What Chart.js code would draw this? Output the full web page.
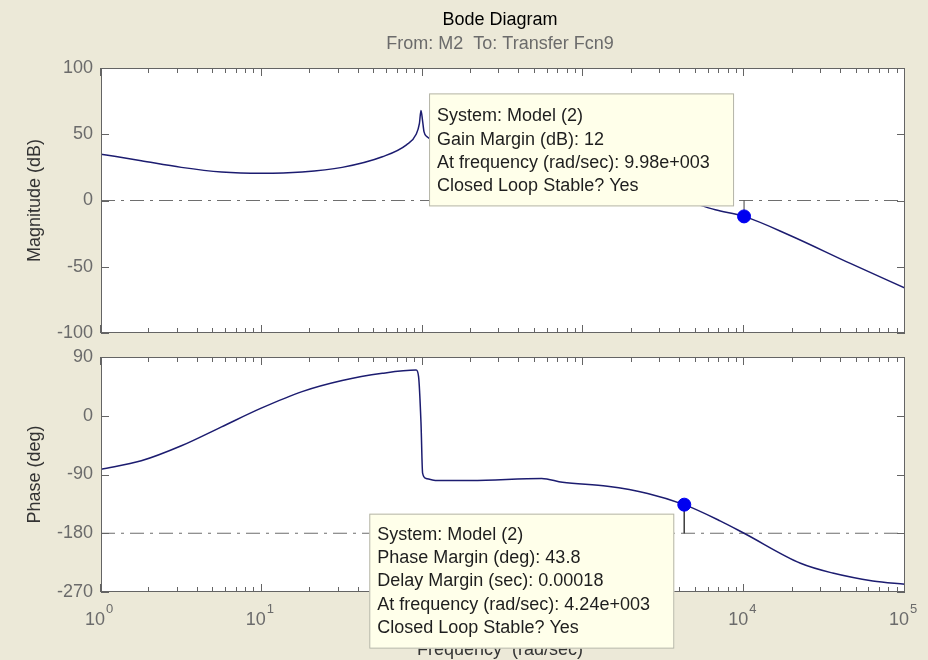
<!DOCTYPE html>
<html>
<head>
<meta charset="utf-8">
<title>Bode Diagram</title>
<script src="https://cdn.jsdelivr.net/npm/chart.js@4/dist/chart.umd.min.js"></script>
<style>
  html, body { margin: 0; padding: 0; background: #ece9d8; }
  #wrap { position: relative; width: 928px; height: 660px; }
  canvas { position: absolute; left: 0; top: 0; }
</style>
</head>
<body>
<div id="wrap">
  <canvas id="magChart" width="928" height="660"></canvas>
  <canvas id="phaseChart" width="928" height="660"></canvas>
</div>
<script>
// values (freq in rad/sec)
const magFreq = [1, 1.78, 3.16, 5.62, 10, 17.8, 31.6, 56.2, 79.4, 91.2, 95.5, 97.7, 100, 102, 107, 126, 316, 1000, 2000, 4240, 6610, 9980, 19000, 45700, 100000];
const magDb   = [35, 30, 25, 21.5, 20.5, 21.5, 25, 33, 42, 50, 58, 68, 60, 52, 48, 44, 33, 20, 10, 0, -7, -12, -26, -47.5, -66];

const phaseFreq = [1, 1.78, 3.16, 5.62, 10, 17.8, 31.6, 56.2, 91.2, 94.4, 97.7, 100, 105, 120, 200, 550, 741, 1410, 2510, 4240, 7080, 9980, 22400, 35500, 63100, 100000];
const phaseDeg  = [-82, -69, -46, -17, 12, 37, 54, 65, 70, 60, -10, -88, -96, -99, -99, -96, -102, -108, -119, -136.2, -161, -180, -226, -241, -253, -258];

// margin markers: [freq, value, reference line]
const gainPoint  = [9980, -12, 0];
const phasePoint = [4240, -136.2, -180];

const magTicks    = [100, 50, 0, -50, -100];
const phaseTicks  = [90, 0, -90, -180, -270];
const decadeTicks = [1, 10, 100, 1000, 10000, 100000];
const decadeExp   = ['0', '1', '2', '3', '4', '5'];
const minorSteps  = [2, 3, 4, 5, 6, 7, 8, 9];

const gainText  = ['System: Model (2)', 'Gain Margin (dB): 12', 'At frequency (rad/sec): 9.98e+003', 'Closed Loop Stable? Yes'];
const phaseText = ['System: Model (2)', 'Phase Margin (deg): 43.8', 'Delay Margin (sec): 0.00018', 'At frequency (rad/sec): 4.24e+003', 'Closed Loop Stable? Yes'];

const FONT = '"Liberation Sans", Arial, sans-serif';

function pts(xs, ys) {
  return xs.map((x, i) => ({ x: x, y: ys[i] }));
}

/* white plot area, then frame with inward ticks on all sides */
function drawBack(chart) {
  const ctx = chart.ctx, a = chart.chartArea;
  ctx.save();
  ctx.fillStyle = '#ffffff';
  ctx.fillRect(a.left, a.top, a.right - a.left, a.bottom - a.top);
  ctx.restore();
}

function drawFrame(chart, yTicks) {
  const ctx = chart.ctx, a = chart.chartArea;
  const xs = chart.scales.x, ys = chart.scales.y;
  ctx.save();
  ctx.strokeStyle = '#646464';
  ctx.lineWidth = 1;
  ctx.strokeRect(a.left + 0.5, a.top + 0.5, a.right - a.left - 1, a.bottom - a.top - 1);
  ctx.beginPath();
  function vtick(v, len) {
    const px = Math.round(xs.getPixelForValue(v)) - 0.5;
    ctx.moveTo(px, a.top); ctx.lineTo(px, a.top + len);
    ctx.moveTo(px, a.bottom); ctx.lineTo(px, a.bottom - len);
  }
  decadeTicks.forEach((d, i) => {
    vtick(d, 8);
    if (i < decadeTicks.length - 1) {
      minorSteps.forEach(m => vtick(d * m, 5));
    }
  });
  yTicks.forEach(v => {
    const py = Math.round(ys.getPixelForValue(v)) + 0.5;
    ctx.moveTo(a.left, py); ctx.lineTo(a.left + 8, py);
    ctx.moveTo(a.right, py); ctx.lineTo(a.right - 8, py);
  });
  ctx.stroke();

  // y tick labels
  ctx.fillStyle = '#6b6b6b';
  ctx.font = '18px ' + FONT;
  ctx.textAlign = 'right';
  ctx.textBaseline = 'middle';
  yTicks.forEach(v => {
    ctx.fillText(String(v), a.left - 8, ys.getPixelForValue(v));
  });
  ctx.restore();
}

function drawYLabel(chart, text) {
  const ctx = chart.ctx, a = chart.chartArea;
  ctx.save();
  ctx.translate(35, (a.top + a.bottom) / 2);
  ctx.rotate(-Math.PI / 2);
  ctx.fillStyle = '#333333';
  ctx.font = '18px ' + FONT;
  ctx.textAlign = 'center';
  ctx.textBaseline = 'middle';
  ctx.fillText(text, 0, 0);
  ctx.restore();
}

function drawBox(ctx, left, top, w, h, lines, firstY) {
  ctx.save();
  ctx.fillStyle = '#ffffea';
  ctx.strokeStyle = '#b4b4a8';
  ctx.lineWidth = 1;
  ctx.fillRect(left, top, w, h);
  ctx.strokeRect(left + 0.5, top + 0.5, w - 1, h - 1);
  ctx.fillStyle = '#1e1e1e';
  ctx.font = '18px ' + FONT;
  ctx.textAlign = 'left';
  ctx.textBaseline = 'middle';
  lines.forEach((t, i) => ctx.fillText(t, left + 8, top + firstY + i * 23.3));
  ctx.restore();
}

function datasets(xs, ys, mark) {
  return [
    { // reference line (0 dB / -180 deg)
      data: [{ x: decadeTicks[0], y: mark[2] }, { x: decadeTicks[decadeTicks.length - 1], y: mark[2] }],
      borderColor: '#6e6e6e', borderWidth: 1.2, borderDash: [14, 6, 3, 6],
      pointRadius: 0, order: 4
    },
    {
      data: pts(xs, ys),
      borderColor: '#1c1c70', borderWidth: 1.5, pointRadius: 0,
      cubicInterpolationMode: 'monotone', order: 3
    },
    { // stem from marker to reference line
      data: [{ x: mark[0], y: mark[1] }, { x: mark[0], y: mark[2] }],
      borderColor: '#404040', borderWidth: 1, pointRadius: 0, order: 2
    },
    {
      data: [{ x: mark[0], y: mark[1] }],
      showLine: false, pointRadius: 6.5, pointHoverRadius: 6.5,
      pointBackgroundColor: '#0000f0', pointBorderColor: '#0000f0', order: 1
    }
  ];
}

function baseOptions(pad, yMin, yMax) {
  return {
    responsive: false,
    animation: false,
    events: [],
    layout: { padding: pad },
    plugins: { legend: { display: false }, tooltip: { enabled: false } },
    scales: {
      x: { type: 'logarithmic', min: 1, max: 100000, display: false },
      y: { type: 'linear', min: yMin, max: yMax, display: false }
    }
  };
}

// ---- magnitude panel ----
new Chart(document.getElementById('magChart'), {
  type: 'line',
  data: { datasets: datasets(magFreq, magDb, gainPoint) },
  options: baseOptions({ left: 101, right: 23, top: 68, bottom: 327 }, -100, 100),
  plugins: [{
    id: 'magDeco',
    beforeDatasetsDraw: drawBack,
    afterDraw(chart) {
      const ctx = chart.ctx;
      drawFrame(chart, magTicks);
      drawYLabel(chart, 'Magnitude (dB)');

      ctx.save();
      ctx.textAlign = 'center';
      ctx.textBaseline = 'middle';
      ctx.font = '18px ' + FONT;
      ctx.fillStyle = '#000000';
      ctx.fillText('Bode Diagram', 500, 20);
      ctx.fillStyle = '#6b6b6b';
      ctx.fillText('From: M2  To: Transfer Fcn9', 500, 44);
      ctx.restore();

      const mx = chart.scales.x.getPixelForValue(gainPoint[0]);
      const my = chart.scales.y.getPixelForValue(gainPoint[1]);
      drawBox(ctx, mx - 10 - 305, my - 10 - 113, 305, 113, gainText, 23);
    }
  }]
});

// ---- phase panel ----
new Chart(document.getElementById('phaseChart'), {
  type: 'line',
  data: { datasets: datasets(phaseFreq, phaseDeg, phasePoint) },
  options: baseOptions({ left: 101, right: 23, top: 357, bottom: 68 }, -270, 90),
  plugins: [{
    id: 'phaseDeco',
    beforeDatasetsDraw: drawBack,
    afterDraw(chart) {
      const ctx = chart.ctx, a = chart.chartArea, xs = chart.scales.x;
      drawFrame(chart, phaseTicks);
      drawYLabel(chart, 'Phase (deg)');

      // decade labels 10^n
      ctx.save();
      ctx.fillStyle = '#6b6b6b';
      ctx.textBaseline = 'middle';
      decadeTicks.forEach((d, i) => {
        const px = xs.getPixelForValue(d);
        ctx.font = '18px ' + FONT;
        ctx.textAlign = 'right';
        ctx.fillText('10', px + 4, a.bottom + 28);
        ctx.font = '13px ' + FONT;
        ctx.textAlign = 'left';
        ctx.fillText(decadeExp[i], px + 5, a.bottom + 17);
      });
      ctx.font = '18px ' + FONT;
      ctx.textAlign = 'center';
      ctx.textBaseline = 'alphabetic';
      ctx.fillStyle = '#333333';
      ctx.fillText('Frequency  (rad/sec)', 500, 655);
      ctx.restore();

      const mx = xs.getPixelForValue(phasePoint[0]);
      const my = chart.scales.y.getPixelForValue(phasePoint[1]);
      drawBox(ctx, mx - 10 - 305, my + 9, 305, 135, phaseText, 21);
    }
  }]
});
</script>
</body>
</html>
